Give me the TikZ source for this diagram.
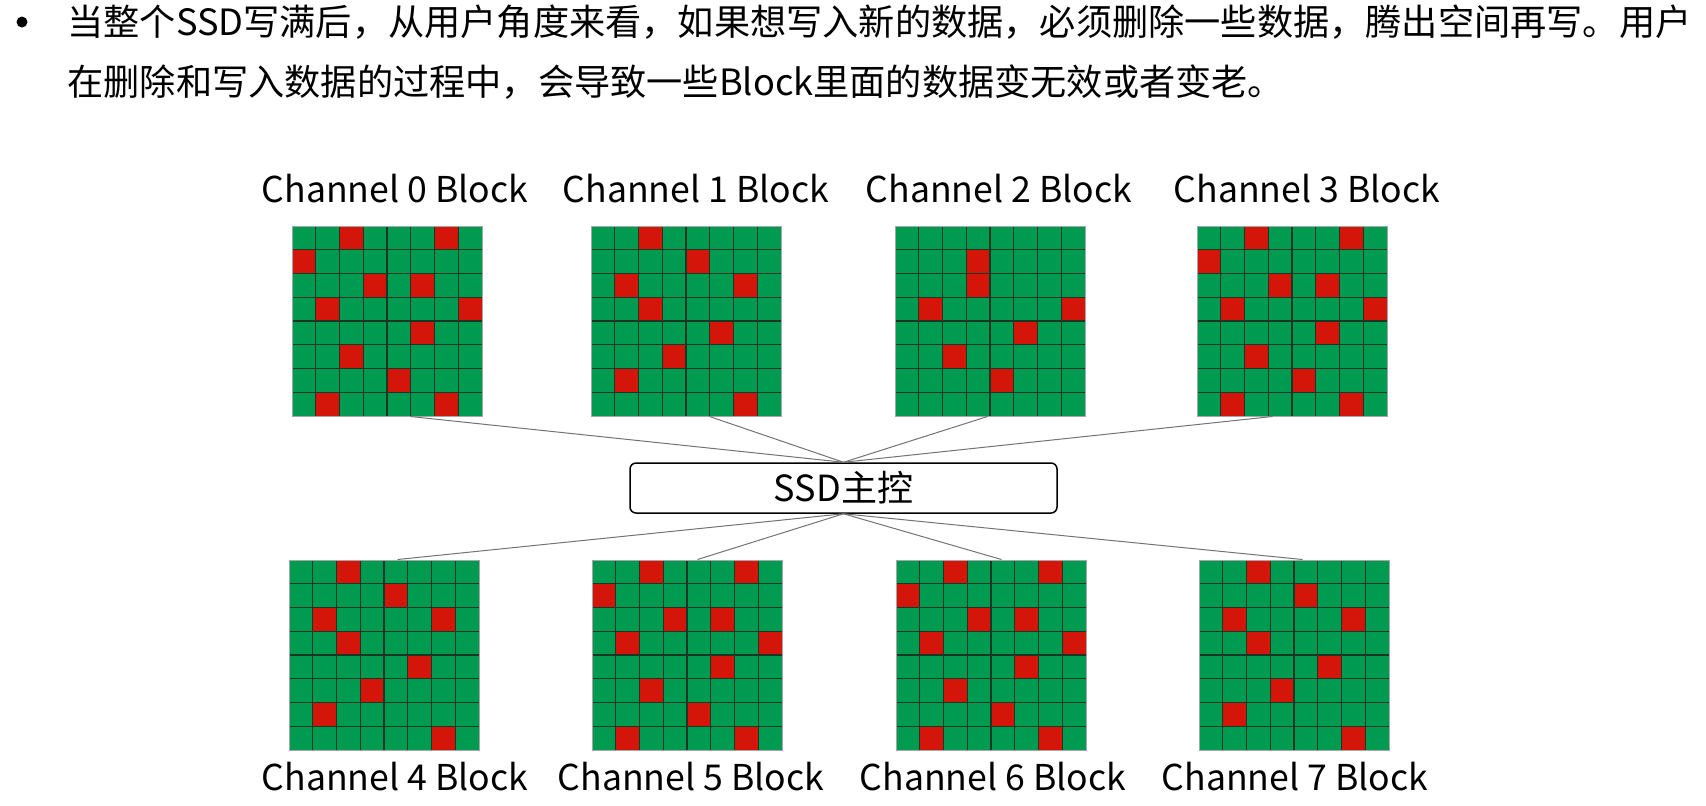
\documentclass[tikz,border=0pt]{standalone}
\usepackage{fontspec}
\setmainfont{Noto Sans CJK SC}
\usepackage{tikz}
\usepackage{xcolor}
\definecolor{goodgreen}{RGB}{0,155,80}
\definecolor{badred}{RGB}{212,22,10}
\definecolor{celline}{RGB}{25,55,35}
\definecolor{wirecol}{RGB}{115,115,115}

\newcommand{\patA}{2/0,6/0,0/1,3/2,5/2,1/3,7/3,5/4,2/5,4/6,1/7,6/7}
\newcommand{\patB}{2/0,4/1,1/2,6/2,2/3,5/4,3/5,1/6,6/7}
\newcommand{\patC}{3/1,3/2,1/3,7/3,5/4,2/5,4/6}

\newcommand{\chblock}[4]{%
  \node[blk] (#1) at (#2+95,#3+95) {};
  \foreach \cx/\ry in #4
    \fill[badred] (#2+\cx*23.75,#3+\ry*23.75) rectangle ++(23.75,23.75);
  \foreach \i in {1,...,7} {
    \draw[cellgrid] (#2+\i*23.75,#3) -- ++(0,190);
    \draw[cellgrid] (#2,#3+\i*23.75) -- ++(190,0);
  }
  \node[blk, fill=none] at (#1) {};
}

\begin{document}
\begin{tikzpicture}[x=0.5pt, y=-0.5pt,
  blk/.style={draw=gray!70, fill=goodgreen, minimum size=95pt, inner sep=0pt, line width=0.5pt},
  cellgrid/.style={draw=celline, line width=0.7pt},
  wire/.style={draw=wirecol, line width=0.5pt},
  lbl/.style={font=\fontsize{17.8pt}{22pt}\selectfont, inner sep=0pt, anchor=base},
  txt/.style={font=\fontsize{18.1pt}{22pt}\selectfont, inner sep=0pt, anchor=west}]
  \useasboundingbox (0,0) rectangle (1706,805);

  \node[circle, fill=black, minimum size=5.5pt, inner sep=0pt] (dot) at (22,22) {};
  \node[txt] (t1) at (67,22) {当整个SSD写满后，从用户角度来看，如果想写入新的数据，必须删除一些数据，腾出空间再写。用户};
  \node[txt] (t2) at (67,82) {在删除和写入数据的过程中，会导致一些Block里面的数据变无效或者变老。};

  \chblock{g0}{292}{226}{\patA}
  \chblock{g1}{591}{226}{\patB}
  \chblock{g2}{895}{226}{\patC}
  \chblock{g3}{1197}{226}{\patA}
  \chblock{g4}{289}{560}{\patB}
  \chblock{g5}{592}{560}{\patA}
  \chblock{g6}{896}{560}{\patA}
  \chblock{g7}{1199}{560}{\patB}

  \node[lbl] (l0) at (395,202) {Channel 0 Block};
  \node[lbl] (l1) at (696,202) {Channel 1 Block};
  \node[lbl] (l2) at (999,202) {Channel 2 Block};
  \node[lbl] (l3) at (1307,202) {Channel 3 Block};
  \node[lbl] (l4) at (395,790) {Channel 4 Block};
  \node[lbl] (l5) at (691,790) {Channel 5 Block};
  \node[lbl] (l6) at (993,790) {Channel 6 Block};
  \node[lbl] (l7) at (1295,790) {Channel 7 Block};

  \node[draw, line width=0.75pt, rounded corners=3pt, minimum width=213.5pt, minimum height=25pt,
        inner sep=0pt, font=\fontsize{18pt}{22pt}\selectfont] (ssd) at (843.5,488) {SSD主控};

  \draw[wire] ([xshift=59.5pt]g0.south west) -- (ssd.north);
  \draw[wire] ([xshift=59.5pt]g1.south west) -- (ssd.north);
  \draw[wire] ([xshift=46.5pt]g2.south west) -- (ssd.north);
  \draw[wire] ([xshift=38pt]g3.south west) -- (ssd.north);
  \draw[wire] ([xshift=54.5pt]g4.north west) -- (ssd.south);
  \draw[wire] ([xshift=53pt]g5.north west) -- (ssd.south);
  \draw[wire] ([xshift=53pt]g6.north west) -- (ssd.south);
  \draw[wire] ([xshift=52pt]g7.north west) -- (ssd.south);
\end{tikzpicture}
\end{document}
